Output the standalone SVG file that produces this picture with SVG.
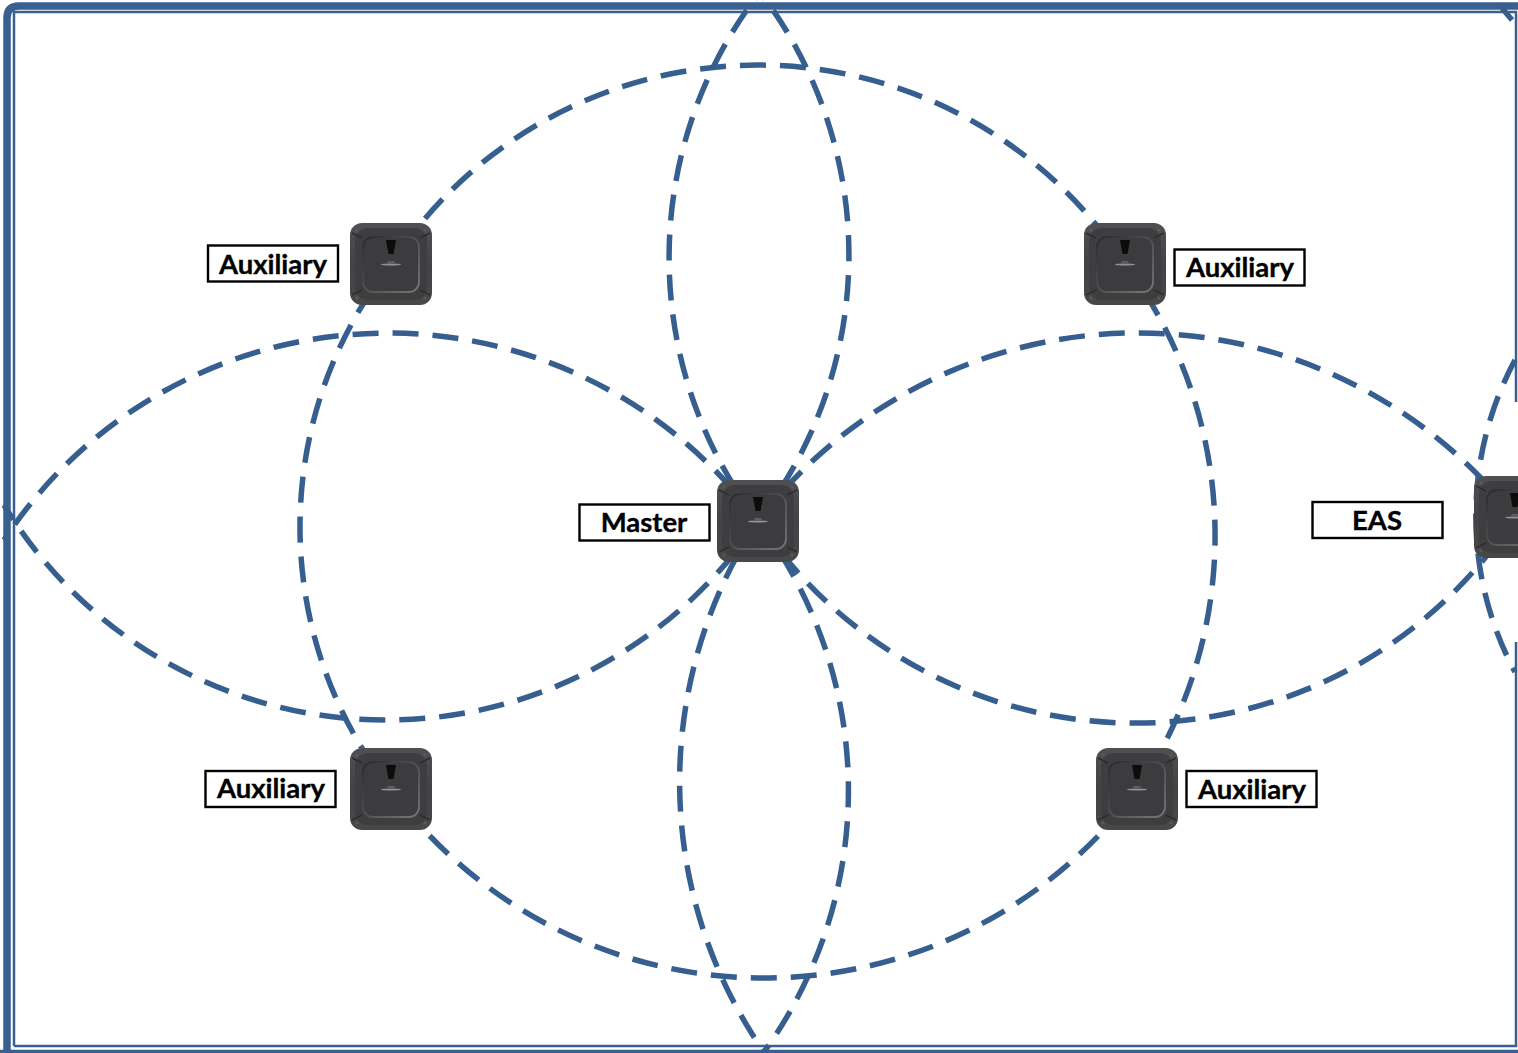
<svg xmlns="http://www.w3.org/2000/svg" width="1518" height="1053" viewBox="0 0 1518 1053">
<style>
.frame{fill:none;stroke:#3A6090}
.arc{fill:none;stroke:#365F8F;stroke-width:5.500;stroke-dasharray:26 14}
.lab{fill:#fff;stroke:#000;stroke-width:2.400}
.txt{font-family:"Lato","Open Sans","Liberation Sans",sans-serif;font-weight:700;font-size:27.500px;fill:#000;stroke:#000;stroke-width:.35;text-anchor:middle}
</style>
<defs>
<linearGradient id="body" x1="0" y1="0" x2="0" y2="1"><stop offset="0" stop-color="#505052"/><stop offset=".5" stop-color="#434345"/><stop offset="1" stop-color="#484849"/></linearGradient>
<linearGradient id="ring" x1="0" y1="0" x2="1" y2="1"><stop offset="0" stop-color="#2a2a2c"/><stop offset="1" stop-color="#77777a"/></linearGradient>
<symbol id="dev" viewBox="0 0 82 82" width="82" height="82" overflow="visible">
<rect width="82" height="82" rx="12" fill="url(#body)"/>
<rect x="5" y="5" width="72" height="72" rx="13" fill="#3e3e40"/>
<path d="M2 10L12 15M80 10L70 15M2 72L12 67M80 72L70 67" stroke="#2d2d2f" stroke-width="1.500"/>
<circle cx="7" cy="7" r="1.500" fill="#5b5b5d"/><circle cx="75" cy="7" r="1.500" fill="#5b5b5d"/><circle cx="7" cy="75" r="1.500" fill="#5b5b5d"/><circle cx="75" cy="75" r="1.500" fill="#5b5b5d"/>
<rect x="13" y="14" width="56" height="55" rx="10" fill="#3c3c3e" stroke="url(#ring)" stroke-width="1.800"/>
<path d="M36 17H46L43.500 31H38.500Z" fill="#0c0c0d"/>
<ellipse cx="41" cy="41.500" rx="10" ry="1" fill="#929294"/>
<rect x="37.500" y="38" width="7" height="2.500" fill="#5e5e61"/>
</symbol>
</defs>
<rect width="1518" height="1053" fill="#fff"/>
<g id="frame">
<path class="frame" stroke-width="7.500" d="M7 1053V18Q7 6 19 6H1518"/>
<path class="frame" stroke-width="2.500" d="M14 1046V12H1516V402"/>
<path class="frame" stroke-width="2.500" d="M1516 642V1046H14"/>
<path class="frame" stroke-width="3.500" d="M0 1051.500H1518"/>
</g>
<g id="connectors">
<path class="arc" style="stroke-dashoffset:23" d="M391 264A438 438 0 0 1 1125 264"/>
<path class="arc" style="stroke-dashoffset:20" d="M391 790A464 464 0 0 0 1137 790"/>
<path class="arc" style="stroke-dashoffset:7" d="M391 264A425.500 425.500 0 0 0 391 790"/>
<path class="arc" style="stroke-dashoffset:5" d="M1125 264A454 454 0 0 1 1137 790"/>
<path class="arc" d="M758 521A459 459 0 0 0 4 540"/>
<path class="arc" d="M758 521A447 447 0 0 1 4 505"/>
<path class="arc" d="M758 521A478 478 0 0 1 1515 517"/>
<path class="arc" d="M758 521A453 453 0 0 0 1515 517"/>
<path class="arc" d="M758 521A434 434 0 0 1 760 -8"/>
<path class="arc" d="M758 521A434 434 0 0 0 760 -8"/>
<path class="arc" d="M758 521A474 474 0 0 0 764 1052"/>
<path class="arc" d="M758 521A447 447 0 0 1 764 1052"/>
<path class="arc" d="M1515 360A330 330 0 0 0 1515 672"/>
<path class="arc" style="stroke-dasharray:none" d="M1502 8L1512 20"/>
</g>
<g id="node-aux-tl"><use href="#dev" x="350" y="223"/><rect class="lab" x="208" y="245.500" width="130" height="36"/><text class="txt" x="273" y="274">Auxiliary</text></g>
<g id="node-aux-tr"><use href="#dev" x="1084" y="223"/><rect class="lab" x="1174.500" y="249.500" width="130" height="36"/><text class="txt" x="1240" y="277">Auxiliary</text></g>
<g id="node-master"><use href="#dev" x="717" y="480"/><rect class="lab" x="579.500" y="504.500" width="130" height="36"/><text class="txt" x="644" y="532">Master</text></g>
<g id="node-eas"><use href="#dev" x="1474" y="476"/><rect class="lab" x="1312.500" y="502" width="130" height="36"/><text class="txt" x="1377" y="530">EAS</text></g>
<g id="node-aux-bl"><use href="#dev" x="350" y="748"/><rect class="lab" x="205.500" y="771" width="130" height="36"/><text class="txt" x="271" y="798">Auxiliary</text></g>
<g id="node-aux-br"><use href="#dev" x="1096" y="748"/><rect class="lab" x="1186.500" y="771" width="130" height="36"/><text class="txt" x="1252" y="799">Auxiliary</text></g>
</svg>
